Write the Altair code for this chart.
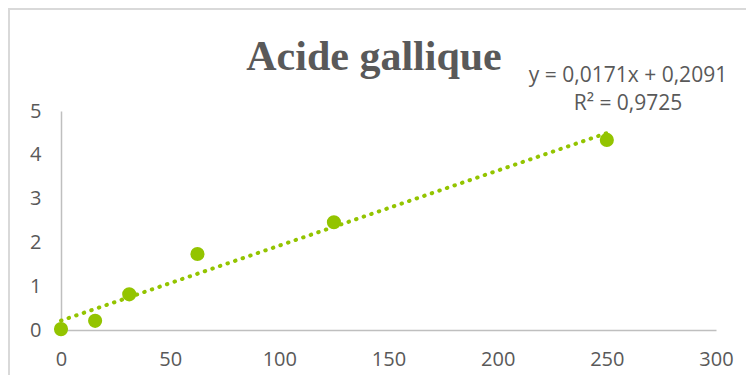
import altair as alt
import pandas as pd

concentration = [0, 15.625, 31.25, 62.5, 125, 250]
absorbance = [0.02, 0.21, 0.815, 1.735, 2.46, 4.34]
x_ticks = [0, 50, 100, 150, 200, 250, 300]
y_ticks = [0, 1, 2, 3, 4, 5]
equation_text = "y = 0,0171x + 0,2091"
r2_text = "R² = 0,9725"
title_text = "Acide gallique"

GREEN = "#93C400"
GRAY_TEXT = "#595959"
AXIS_GRAY = "#BFBFBF"

df = pd.DataFrame({"x": concentration, "y": absorbance})
one = pd.DataFrame({"k": [0]})

x_enc = alt.X("x:Q", scale=alt.Scale(domain=[0, 300], nice=False),
              axis=alt.Axis(values=x_ticks, title=None, grid=False, ticks=False,
                            domainColor=AXIS_GRAY, domainWidth=1.5, labelFlush=False,
                            labelColor=GRAY_TEXT, labelFont="Open Sans",
                            labelFontSize=20, labelFontWeight="normal", labelPadding=19))
y_enc = alt.Y("y:Q", scale=alt.Scale(domain=[0, 5], nice=False),
              axis=alt.Axis(values=y_ticks, title=None, grid=False, ticks=False,
                            domainColor=AXIS_GRAY, domainWidth=1.5, labelFlush=False,
                            labelColor=GRAY_TEXT, labelFont="Open Sans",
                            labelFontSize=20, labelFontWeight="normal", labelPadding=20))

base = alt.Chart(df)

border = alt.Chart(one).mark_rect(fill=None, stroke="#D9D9D9", strokeWidth=2).encode(
    x=alt.value(-52), x2=alt.value(760), y=alt.value(-102), y2=alt.value(300)
)

trend = base.transform_regression("x", "y", method="linear", extent=[0, 250]).mark_line(
    color=GREEN, strokeWidth=4, strokeDash=[0.5, 7.5], strokeCap="round"
).encode(x=x_enc, y=y_enc)

points = base.mark_circle(color=GREEN, size=200, opacity=1).encode(x=x_enc, y=y_enc)

eq = alt.Chart(one).mark_text(
    text=[equation_text, r2_text], font="Open Sans", fontSize=21, fontWeight="normal",
    color=GRAY_TEXT, align="center", baseline="middle", lineHeight=28
).encode(x=alt.value(567), y=alt.value(-35))

title = alt.Chart(one).mark_text(
    text=title_text, font="Liberation Serif", fontSize=42, fontWeight="bold",
    color=GRAY_TEXT, align="center", baseline="alphabetic"
).encode(x=alt.value(313), y=alt.value(-41))

chart = alt.layer(border, trend, points, eq, title).properties(
    width=655, height=219,
    padding={"left": 53, "top": 103, "right": 30, "bottom": 45},
    autosize=alt.AutoSizeParams(type="none"),
).configure_view(stroke=None)

chart.save("out.html", embed_options={"renderer": "svg", "actions": False})
